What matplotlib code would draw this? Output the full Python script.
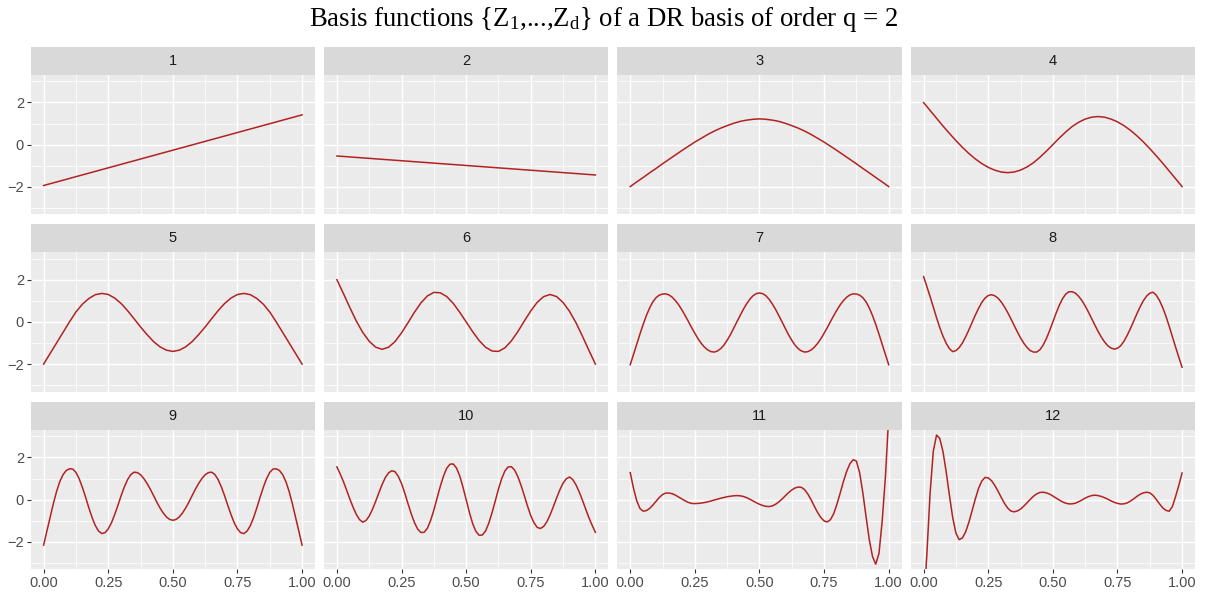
import numpy as np
import matplotlib
matplotlib.use('Agg')
import matplotlib.pyplot as plt
from matplotlib.patches import Rectangle

plt.rcParams['font.family'] = ['Liberation Sans', 'DejaVu Sans']
plt.rcParams['mathtext.fontset'] = 'custom'
plt.rcParams['mathtext.rm'] = 'Liberation Serif'
plt.rcParams['mathtext.it'] = 'Liberation Serif:italic'

# ---- data ----
TITLE = r'Basis functions {Z$_\mathrm{1}$,...,Z$_\mathrm{d}$} of a DR basis of order q = 2'
PANEL_LABELS = [str(i) for i in range(1, 13)]

X_LINE = [0.0, 1.0]
X41 = np.linspace(0, 1, 41)     # step 0.025
X81 = np.linspace(0, 1, 81)     # step 0.0125

y1 = [-1.94, 1.41]
y2 = [-0.54, -1.44]
y3 = [-1.99, -1.77, -1.56, -1.34, -1.13, -0.91, -0.70, -0.49, -0.28, -0.08, 0.12,
      0.30, 0.48, 0.64, 0.78, 0.90, 1.01, 1.10, 1.16, 1.20, 1.22,
      1.20, 1.16, 1.10, 1.01, 0.90, 0.78, 0.64, 0.48, 0.30, 0.12,
      -0.08, -0.28, -0.49, -0.70, -0.91, -1.13, -1.34, -1.56, -1.77, -1.99]
y4 = [1.99, 1.62, 1.25, 0.88, 0.53, 0.19, -0.13, -0.42, -0.68, -0.90, -1.08,
      -1.21, -1.30, -1.33, -1.30, -1.21, -1.06, -0.86, -0.60, -0.31, 0.00,
      0.31, 0.60, 0.86, 1.06, 1.21, 1.30, 1.33, 1.30, 1.21, 1.08,
      0.90, 0.68, 0.42, 0.13, -0.19, -0.53, -0.88, -1.25, -1.62, -1.99]
y5 = [-2.00, -1.50, -1.00, -0.50, 0.00, 0.47, 0.84, 1.11, 1.29, 1.35, 1.30,
      1.13, 0.87, 0.53, 0.15, -0.24, -0.60, -0.93, -1.18, -1.34, -1.40,
      -1.34, -1.18, -0.93, -0.60, -0.24, 0.15, 0.53, 0.87, 1.13, 1.30,
      1.35, 1.29, 1.11, 0.84, 0.47, 0.00, -0.50, -1.00, -1.50, -2.00]
y6 = [2.00, 1.35, 0.68, 0.04, -0.50, -0.92, -1.20, -1.30, -1.20, -0.93, -0.52,
      -0.04, 0.46, 0.90, 1.23, 1.40, 1.38, 1.20, 0.88, 0.46, 0.00,
      -0.46, -0.88, -1.20, -1.38, -1.40, -1.23, -0.90, -0.46, 0.04, 0.52,
      0.93, 1.20, 1.30, 1.20, 0.92, 0.50, -0.04, -0.68, -1.35, -2.00]

y7 = [-2.03, -1.55, -1.07, -0.58, -0.12, 0.30, 0.66, 0.95, 1.15, 1.27,
      1.32, 1.33, 1.28, 1.17, 1.01, 0.81, 0.57, 0.30, 0.02, -0.27,
      -0.54, -0.80, -1.02, -1.20, -1.33, -1.41, -1.43, -1.38, -1.27, -1.10,
      -0.87, -0.61, -0.31, 0.00, 0.30, 0.59, 0.85, 1.07, 1.24, 1.34,
      1.37,
      1.34, 1.24, 1.07, 0.85, 0.59, 0.30, 0.00, -0.31, -0.61, -0.87,
      -1.10, -1.27, -1.38, -1.43, -1.41, -1.33, -1.20, -1.02, -0.80, -0.54,
      -0.27, 0.02, 0.30, 0.57, 0.81, 1.01, 1.17, 1.28, 1.33, 1.32,
      1.27, 1.15, 0.95, 0.66, 0.30, -0.12, -0.58, -1.07, -1.55, -2.03]
y8 = [2.15, 1.68, 1.20, 0.70, 0.20, -0.27, -0.68, -1.02, -1.27, -1.41,
      -1.36, -1.22, -1.00, -0.71, -0.38, -0.03, 0.32, 0.64, 0.92, 1.13,
      1.25, 1.29, 1.24, 1.13, 0.95, 0.72, 0.45, 0.15, -0.16, -0.47,
      -0.76, -1.01, -1.21, -1.36, -1.43, -1.43, -1.32, -1.10, -0.79, -0.41,
      0.00,
      0.41, 0.79, 1.10, 1.32, 1.43, 1.43, 1.36, 1.21, 1.01, 0.76,
      0.47, 0.16, -0.15, -0.45, -0.72, -0.95, -1.13, -1.24, -1.29, -1.25,
      -1.13, -0.92, -0.64, -0.32, 0.03, 0.38, 0.71, 1.00, 1.22, 1.36,
      1.41, 1.27, 1.02, 0.68, 0.27, -0.20, -0.70, -1.20, -1.68, -2.15]
y9 = [-2.16, -1.50, -0.85, -0.20, 0.38, 0.85, 1.18, 1.38, 1.46, 1.45,
      1.29, 0.99, 0.58, 0.11, -0.39, -0.85, -1.23, -1.49, -1.61, -1.57,
      -1.39, -1.10, -0.71, -0.27, 0.19, 0.61, 0.95, 1.19, 1.30, 1.28,
      1.18, 1.00, 0.77, 0.50, 0.20, -0.11, -0.39, -0.63, -0.82, -0.94,
      -0.98,
      -0.94, -0.82, -0.63, -0.39, -0.11, 0.20, 0.50, 0.77, 1.00, 1.18,
      1.28, 1.30, 1.19, 0.95, 0.61, 0.19, -0.27, -0.71, -1.10, -1.39,
      -1.57, -1.61, -1.49, -1.23, -0.85, -0.39, 0.11, 0.58, 0.99, 1.29,
      1.45, 1.46, 1.38, 1.18, 0.85, 0.38, -0.20, -0.85, -1.50, -2.16]
y10 = [1.55, 1.22, 0.86, 0.45, 0.03, -0.36, -0.70, -0.95, -1.07, -0.99,
       -0.78, -0.46, -0.08, 0.33, 0.72, 1.05, 1.27, 1.37, 1.32, 1.10,
       0.76, 0.31, -0.19, -0.67, -1.09, -1.40, -1.56, -1.55, -1.36, -0.99,
       -0.50, 0.07, 0.63, 1.12, 1.49, 1.68, 1.69, 1.50, 1.13, 0.60,
       0.00,
       -0.60, -1.13, -1.50, -1.69, -1.68, -1.49, -1.12, -0.63, -0.07, 0.50,
       0.99, 1.36, 1.55, 1.56, 1.40, 1.09, 0.67, 0.19, -0.31, -0.76,
       -1.10, -1.32, -1.37, -1.27, -1.05, -0.72, -0.33, 0.08, 0.46, 0.78,
       0.99, 1.07, 0.95, 0.70, 0.36, -0.03, -0.45, -0.86, -1.22, -1.55]
y11 = [1.28, 0.55, -0.05, -0.42, -0.55, -0.52, -0.42, -0.26, -0.08, 0.10,
       0.24, 0.31, 0.31, 0.28, 0.21, 0.12, 0.03, -0.06, -0.135, -0.18,
       -0.19, -0.18, -0.165, -0.14, -0.105, -0.066, -0.02, 0.02, 0.064, 0.10,
       0.137, 0.16, 0.18, 0.19, 0.18, 0.15, 0.094, 0.02, -0.063, -0.147,
       -0.22,
       -0.28, -0.32, -0.33, -0.30, -0.22, -0.11, 0.03, 0.18, 0.33, 0.455,
       0.55, 0.595, 0.58, 0.47, 0.26, -0.01, -0.32, -0.61, -0.85, -1.01,
       -1.06, -0.95, -0.66, -0.21, 0.315, 0.86, 1.34, 1.70, 1.89, 1.83,
       1.28, 0.33, -0.81, -1.90, -2.70, -3.06, -2.55, -1.00, 1.10, 3.90]
y12 = [-5.0, -2.6, 0.3, 2.3, 3.06, 2.90, 2.27, 1.30, 0.19, -0.85,
       -1.59, -1.90, -1.82, -1.53, -1.08, -0.53, 0.03, 0.53, 0.88, 1.05,
       1.03, 0.90, 0.68, 0.41, 0.11, -0.17, -0.40, -0.54, -0.58, -0.54,
       -0.45, -0.31, -0.155, 0.01, 0.16, 0.27, 0.34, 0.35, 0.32, 0.26,
       0.17,
       0.074, -0.02, -0.11, -0.17, -0.205, -0.20, -0.17, -0.10, -0.02, 0.07,
       0.14, 0.19, 0.21, 0.19, 0.15, 0.09, 0.02, -0.06, -0.13, -0.18,
       -0.21, -0.20, -0.16, -0.07, 0.03, 0.15, 0.25, 0.32, 0.35, 0.32,
       0.20, 0.01, -0.20, -0.39, -0.51, -0.55, -0.33, 0.15, 0.68, 1.26]

series = [(X_LINE, y1), (X_LINE, y2), (X41, y3), (X41, y4), (X41, y5), (X41, y6),
          (X81, y7), (X81, y8), (X81, y9), (X81, y10), (X81, y11), (X81, y12)]

X_TICKS = [0, 0.25, 0.5, 0.75, 1.0]
X_TICKLABELS = ['0.00', '0.25', '0.50', '0.75', '1.00']
Y_TICKS = [-2, 0, 2]

# ---- layout (pixels) ----
W, H = 1207, 599
COL_LEFT = [30.7, 324.0, 617.3, 910.7]
COL_W = 284.3
ROW_TOP = [75.0, 252.3, 430.0]
ROW_H = 139.2
STRIP_H = 28.3

LINE_COL = '#B22222'

fig = plt.figure(figsize=(W / 100, H / 100), dpi=100)

for i, (xs, ys) in enumerate(series):
    r, c = divmod(i, 4)
    ax = fig.add_axes([COL_LEFT[c] / W, 1 - (ROW_TOP[r] + ROW_H) / H,
                       COL_W / W, ROW_H / H])
    ax.set_facecolor('#EBEBEB')
    for sp in ax.spines.values():
        sp.set_visible(False)
    ax.set_xlim(-0.05, 1.05)
    ax.set_ylim(-3.3, 3.3)
    ax.set_xticks(X_TICKS)
    ax.set_xticklabels(X_TICKLABELS)
    ax.set_xticks([0.125, 0.375, 0.625, 0.875], minor=True)
    ax.set_yticks(Y_TICKS)
    ax.set_yticks([-3, -1, 1, 3], minor=True)
    ax.grid(True, which='major', color='white', lw=1.07)
    ax.grid(True, which='minor', color='white', lw=0.53)
    ax.set_axisbelow(True)
    ax.tick_params(which='major', length=2.75, width=0.8, color='#333333',
                   labelsize=10.5, labelcolor='#4D4D4D', pad=2)
    ax.tick_params(which='minor', length=0)
    if c != 0:
        ax.tick_params(axis='y', which='major', length=0, labelleft=False)
    if r != 2:
        ax.tick_params(axis='x', which='major', length=0, labelbottom=False)

    ax.plot(xs, ys, color=LINE_COL, lw=1.1, zorder=3)

    # facet strip
    sh = STRIP_H / ROW_H
    ax.add_patch(Rectangle((0, 1), 1, sh, transform=ax.transAxes,
                           facecolor='#D9D9D9', edgecolor='none', clip_on=False))
    ax.text(0.5, 1 + sh / 2, PANEL_LABELS[i], transform=ax.transAxes,
            ha='center', va='center', fontsize=10.5, color='#1A1A1A')

fig.text(0.5, 1 - 20 / H, TITLE, ha='center', va='center',
         family='Liberation Serif', fontsize=19.3)

fig.savefig('out.png', dpi=100, facecolor='white')
